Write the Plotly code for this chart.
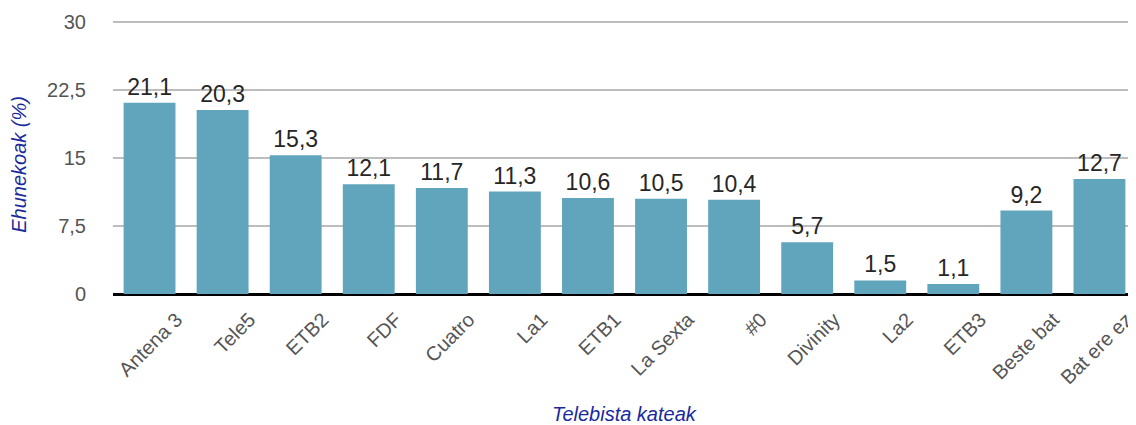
import plotly.graph_objects as go

categories = ["Antena 3", "Tele5", "ETB2", "FDF", "Cuatro", "La1", "ETB1", "La Sexta",
              "#0", "Divinity", "La2", "ETB3", "Beste bat", "Bat ere ez"]
values = [21.1, 20.3, 15.3, 12.1, 11.7, 11.3, 10.6, 10.5, 10.4, 5.7, 1.5, 1.1, 9.2, 12.7]
y_ticks = [0, 7.5, 15, 22.5, 30]

BAR = "#60a5bc"
FONT = "Liberation Sans, Arial, Helvetica, sans-serif"
BLUE = "#1a2a9c"

# page body has an 8px default margin: figure is offset by (8, 8) in the window
fig = go.Figure(go.Bar(
    x=categories, y=values,
    marker=dict(color=BAR, line=dict(width=0)),
    text=values, texttemplate="%{y:.1f}", textposition="outside",
    textfont=dict(family=FONT, size=23, color="#262626"),
    cliponaxis=False, width=0.71,
))

fig.update_layout(
    width=1128, height=417,
    margin=dict(l=105, r=0, t=5, b=131),
    paper_bgcolor="white", plot_bgcolor="white",
    separators=",.",
    showlegend=False,
    font=dict(family=FONT),
    xaxis=dict(
        range=[-0.5, 13.5], tickangle=-45, tickfont=dict(size=20, color="#555555"),
        showgrid=False, showline=False, ticks="", ticklabelshift=27, ticklabelstandoff=9,
    ),
    yaxis=dict(
        range=[0, 31], tickvals=y_ticks, tickfont=dict(size=20, color="#555555"),
        showgrid=True, gridcolor="#bdbdbd", gridwidth=2,
        zeroline=True, zerolinecolor="#000000", zerolinewidth=3,
        ticks="", ticklabelstandoff=26, showline=False,
    ),
    annotations=[
        dict(text="<i>Ehunekoak (%)</i>", xref="paper", yref="paper", x=-0.092, y=0.463,
             textangle=-90, showarrow=False, xanchor="center", yanchor="middle",
             font=dict(family=FONT, size=20, color=BLUE)),
        dict(text="<i>Telebista kateak</i>", xref="paper", yref="paper", x=0.5, y=-0.427,
             showarrow=False, xanchor="center", yanchor="middle",
             font=dict(family=FONT, size=20, color=BLUE)),
        dict(text="3", xref="paper", yref="paper", x=0.9945, y=-0.41,
             showarrow=False, xanchor="left", yanchor="middle",
             font=dict(family=FONT, size=20, color="#4aa3c8")),
    ],
)

fig.write_html("out.html")
